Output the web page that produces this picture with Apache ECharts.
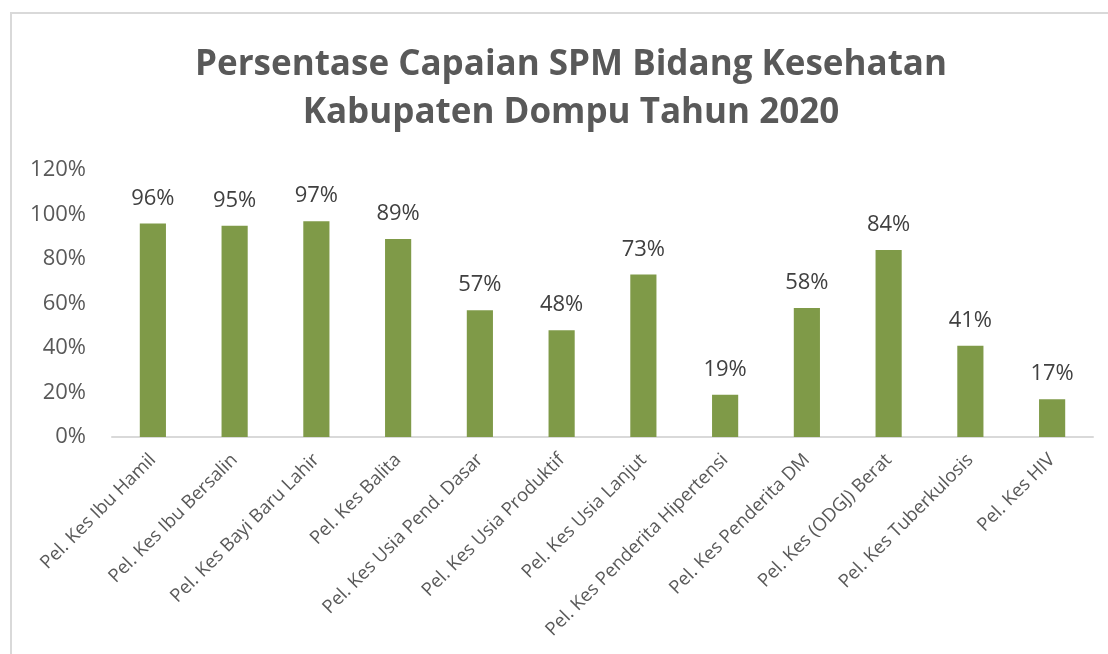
<!DOCTYPE html>
<html lang="en">
<head>
    <meta charset="UTF-8">
    <title>Persentase Capaian SPM</title>
    <script src="https://cdn.jsdelivr.net/npm/echarts@6/dist/echarts.min.js"></script>
    <style>
        html, body { margin: 0; padding: 0; background: #fff; }
        #chart { width: 1108px; height: 654px; }
    </style>
</head>
<body>

<div id="chart"></div>

<script>
    var categories = [
        'Pel. Kes Ibu Hamil', 'Pel. Kes Ibu Bersalin', 'Pel. Kes Bayi Baru Lahir',
        'Pel. Kes Balita', 'Pel. Kes Usia Pend. Dasar', 'Pel. Kes Usia Produktif',
        'Pel. Kes Usia Lanjut', 'Pel. Kes Penderita Hipertensi', 'Pel. Kes Penderita DM',
        'Pel. Kes (ODGJ) Berat', 'Pel. Kes Tuberkulosis', 'Pel. Kes HIV'
    ];
    var capaian = [96, 95, 97, 89, 57, 48, 73, 19, 58, 84, 41, 17];
    var titleLines = ['Persentase Capaian SPM Bidang Kesehatan', 'Kabupaten Dompu Tahun 2020'];

    var myChart = echarts.init(document.getElementById('chart'));

    var font = '"Open Sans", "Noto Sans", sans-serif';

    var option = {
        animation: false,
        title: {
            text: titleLines.join('\n'),
            left: 566,
            textAlign: 'center',
            top: 36,
            textStyle: {
                fontFamily: font,
                fontSize: 35,
                fontWeight: 'bold',
                color: '#595959',
                lineHeight: 48
            }
        },
        graphic: [{
            type: 'rect',
            shape: { x: 11, y: 13, width: 1120, height: 680 },
            style: { fill: 'none', stroke: '#d9d9d9', lineWidth: 2 },
            silent: true
        }],
        grid: { left: 112, right: 15, top: 170, bottom: 217 },
        xAxis: {
            type: 'category',
            data: categories,
            axisLine: { lineStyle: { color: '#d9d9d9', width: 2 } },
            axisTick: { show: false },
            axisLabel: {
                interval: 0,
                rotate: 45,
                margin: 20,
                fontFamily: font,
                fontSize: 18.5,
                color: '#595959'
            }
        },
        yAxis: {
            type: 'value',
            min: 0,
            max: 120,
            interval: 20,
            splitLine: { show: false },
            axisLine: { show: false },
            axisTick: { show: false },
            axisLabel: {
                formatter: '{value}%',
                margin: 26,
                fontFamily: font,
                fontSize: 22,
                color: '#595959'
            }
        },
        series: [{
            type: 'bar',
            data: capaian,
            barWidth: '32%',
            itemStyle: { color: '#7f9a48' },
            label: {
                show: true,
                position: 'top',
                distance: 14,
                formatter: '{c}%',
                fontFamily: font,
                fontSize: 22,
                color: '#404040'
            }
        }]
    };

    myChart.setOption(option);
</script>

</body>
</html>
